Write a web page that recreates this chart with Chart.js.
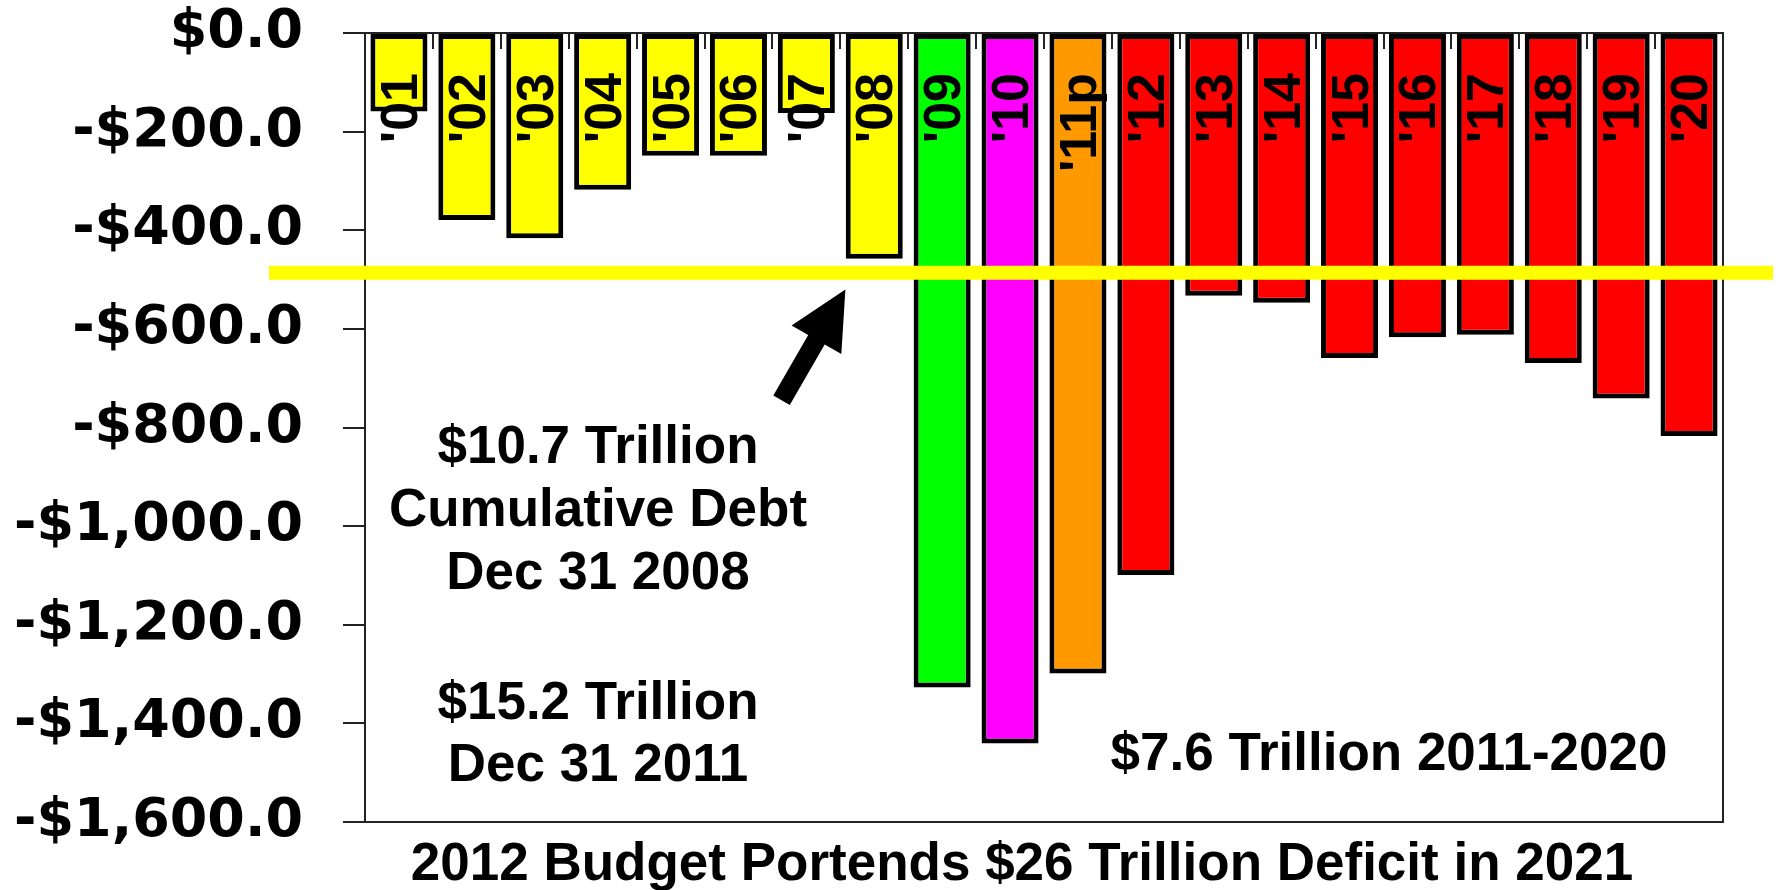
<!DOCTYPE html>
<html>
<head>
<meta charset="utf-8">
<title>Annual Deficits 2001-2020</title>
<script src="https://cdn.jsdelivr.net/npm/chart.js@4.4.1/dist/chart.umd.min.js"></script>
<style>
    html, body { margin: 0; padding: 0; background: #fff; }
    #wrap { position: relative; width: 1779px; height: 890px; }
</style>
</head>
<body>
<div id="wrap"><canvas id="deficitChart"></canvas></div>
<script>
// Annual deficit by fiscal year, $ billions ('11 is the projected year)
const years = ["'01", "'02", "'03", "'04", "'05", "'06", "'07", "'08", "'09", "'10",
    "'11p", "'12", "'13", "'14", "'15", "'16", "'17", "'18", "'19", "'20"];
const deficits = [-159, -379, -416, -318, -249, -249, -162, -458, -1327, -1441,
    -1299, -1099, -533, -547, -659, -617, -612, -669, -741, -817];
const barColors = [
    '#FFFF00', '#FFFF00', '#FFFF00', '#FFFF00', '#FFFF00', '#FFFF00', '#FFFF00', '#FFFF00',
    '#00FF00', '#FF00FF', '#FF9900',
    '#FF0000', '#FF0000', '#FF0000', '#FF0000', '#FF0000', '#FF0000', '#FF0000', '#FF0000', '#FF0000'
];
const yTicks = [0, -200, -400, -600, -800, -1000, -1200, -1400, -1600];

// Reference level for the yellow marker line and where the arrow points
const markerValue = -486;
const arrowTipValue = -520;

const note2008 = ['$10.7 Trillion', 'Cumulative Debt', 'Dec 31 2008'];
const note2011 = ['$15.2 Trillion', 'Dec 31 2011'];
const projectionNote = '$7.6 Trillion 2011-2020';
const footerTitle = '2012 Budget Portends $26 Trillion Deficit in 2021';

const SANS = '"Liberation Sans", Arial, sans-serif';

/**
 * Format axis values as -$1,200.0
 */
function formatMoney(value) {
    const abs = Math.abs(value).toLocaleString('en-US', {
        minimumFractionDigits: 1,
        maximumFractionDigits: 1
    });
    return (value < 0 ? '-' : '') + '$' + abs;
}

/**
 * Frame, year ticks and labels, marker line, arrow and notes
 */
const overlayPlugin = {
    id: 'overlay',
    afterDraw(chart) {
        const { ctx, chartArea: area, scales: { x, y } } = chart;
        const half = (x.getPixelForValue(1) - x.getPixelForValue(0)) / 2;

        ctx.save();

        // plot frame (zero line on top)
        ctx.strokeStyle = '#222';
        ctx.lineWidth = 2;
        ctx.beginPath();
        ctx.moveTo(area.left, area.top);
        ctx.lineTo(area.right, area.top);
        ctx.lineTo(area.right, area.bottom);
        ctx.lineTo(area.left, area.bottom);
        ctx.stroke();

        // short ticks between the years, hanging from the zero line
        ctx.beginPath();
        years.forEach((_, i) => {
            const bx = Math.round(x.getPixelForValue(i) + half);
            ctx.moveTo(bx, area.top);
            ctx.lineTo(bx, area.top + 16);
        });
        ctx.stroke();

        // rotated year labels
        ctx.fillStyle = '#000';
        ctx.font = 'bold 52px ' + SANS;
        ctx.textAlign = 'right';
        ctx.textBaseline = 'alphabetic';
        years.forEach((label, i) => {
            ctx.save();
            ctx.translate(x.getPixelForValue(i) + 18, area.top + 40);
            ctx.rotate(-Math.PI / 2);
            ctx.fillText(label, 0, 0);
            ctx.restore();
        });

        // yellow marker line
        const my = y.getPixelForValue(markerValue);
        ctx.strokeStyle = '#FFFF00';
        ctx.lineWidth = 14;
        ctx.beginPath();
        ctx.moveTo(area.left - 96, my);
        ctx.lineTo(area.right + 50, my);
        ctx.stroke();

        // arrow pointing at the '08 bar
        const tipX = x.getPixelForValue(7) - half * 0.85;
        const tipY = y.getPixelForValue(arrowTipValue);
        const ux = 0.4988, uy = -0.8667;   // direction tail -> tip
        const nx = -uy, ny = ux;
        const len = 128, headLen = 58, headHalf = 28.7, shaftHalf = 9.5;
        const bx = tipX - ux * headLen, by = tipY - uy * headLen;
        const tx = tipX - ux * len, ty = tipY - uy * len;
        ctx.fillStyle = '#000';
        ctx.beginPath();
        ctx.moveTo(tipX, tipY);
        ctx.lineTo(bx + nx * headHalf, by + ny * headHalf);
        ctx.lineTo(bx + nx * shaftHalf, by + ny * shaftHalf);
        ctx.lineTo(tx + nx * shaftHalf, ty + ny * shaftHalf);
        ctx.lineTo(tx - nx * shaftHalf, ty - ny * shaftHalf);
        ctx.lineTo(bx - nx * shaftHalf, by - ny * shaftHalf);
        ctx.lineTo(bx - nx * headHalf, by - ny * headHalf);
        ctx.closePath();
        ctx.fill();

        // notes
        ctx.font = 'bold 53px ' + SANS;
        ctx.textAlign = 'center';
        const noteX = area.left + 233;
        note2008.forEach((line, i) => ctx.fillText(line, noteX, area.top + 430 + i * 63));
        note2011.forEach((line, i) => ctx.fillText(line, noteX, area.top + 686 + i * 62));
        ctx.fillText(projectionNote, area.left + 1024, area.top + 737);
        ctx.fillText(footerTitle, area.left + 657, area.bottom + 58);

        ctx.restore();
    }
};

/**
 * Render Deficit Chart
 */
function renderDeficitChart() {
    const ctx = document.getElementById('deficitChart').getContext('2d');

    new Chart(ctx, {
        type: 'bar',
        data: {
            labels: years,
            datasets: [{
                label: 'Deficit',
                data: deficits,
                backgroundColor: barColors,
                borderColor: '#000',
                borderWidth: 5,
                borderSkipped: false,
                categoryPercentage: 1,
                barPercentage: 0.84
            }]
        },
        options: {
            responsive: true,
            maintainAspectRatio: false,
            animation: false,
            layout: {
                padding: { top: 33, right: 56, bottom: 68, left: 0 }
            },
            plugins: {
                legend: { display: false },
                tooltip: { enabled: false }
            },
            scales: {
                x: { display: false },
                y: {
                    min: -1600,
                    max: 0,
                    afterBuildTicks: (scale) => {
                        scale.ticks = yTicks.map(v => ({ value: v }));
                    },
                    afterFit: (scale) => {
                        // fixed axis width; the outer labels may overhang the plot
                        scale.width = 365;
                        scale.paddingTop = 0;
                        scale.paddingBottom = 0;
                    },
                    grid: {
                        drawOnChartArea: false,
                        drawTicks: true,
                        tickLength: 22,
                        color: '#222',
                        lineWidth: 2
                    },
                    border: { display: true, color: '#222', width: 2 },
                    ticks: {
                        padding: 40,
                        color: '#000',
                        font: { family: '"DejaVu Sans", sans-serif', weight: 'bold', size: 54 },
                        callback: (value) => formatMoney(value)
                    }
                }
            }
        },
        plugins: [overlayPlugin]
    });
}

renderDeficitChart();
</script>
</body>
</html>
